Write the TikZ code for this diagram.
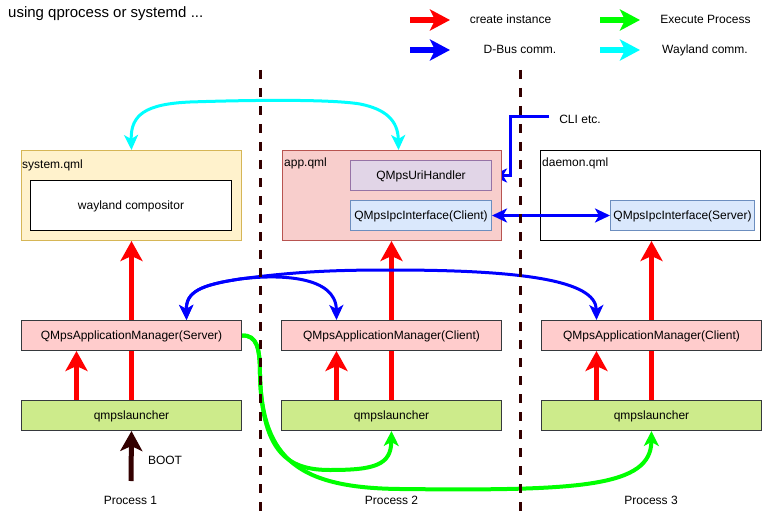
\documentclass[tikz,border=0pt]{standalone}
\usepackage{fontspec}
\setmainfont{Liberation Sans}
\usetikzlibrary{arrows.meta}
\pgfdeclarelayer{bg}
\pgfsetlayers{bg,main}
\definecolor{sysfill}{HTML}{FFF2CC}
\definecolor{sysdraw}{HTML}{D6B656}
\definecolor{appfill}{HTML}{F8CECC}
\definecolor{appdraw}{HTML}{B85450}
\definecolor{urifill}{HTML}{E1D5E7}
\definecolor{uridraw}{HTML}{9673A6}
\definecolor{ipcfill}{HTML}{DAE8FC}
\definecolor{ipcdraw}{HTML}{6C8EBF}
\definecolor{mgrfill}{HTML}{FFCCCC}
\definecolor{lnchfill}{HTML}{CDEB8B}
\definecolor{darkdraw}{HTML}{36393D}
\definecolor{bootc}{HTML}{330000}
\definecolor{cgreen}{HTML}{00FF00}
\definecolor{ccyan}{HTML}{00FFFF}
\definecolor{cblue}{HTML}{0000FF}
\definecolor{cred}{HTML}{FF0000}
\begin{document}
\begin{tikzpicture}[x=1pt,y=-1pt,
  font=\fontsize{12}{14}\selectfont,
  every node/.style={text height=10pt, text depth=2pt},
  box/.style={draw, line width=1pt, inner sep=0pt, anchor=north west, align=center},
  rowbox/.style={box, minimum width=220pt, minimum height=30pt, draw=darkdraw},
  lbl/.style={inner sep=0pt, anchor=west},
  bigtip/.style={-{Stealth[length=20pt, width=22pt, inset=5pt]}},
  redarr/.style={draw=cred, line width=4.5pt, bigtip},
  bootarr/.style={draw=bootc, line width=5pt, bigtip},
  legarr/.style={line width=5.5pt, -{Stealth[length=20pt, width=21pt, inset=5pt]}},
  bluesingle/.style={draw=cblue, line width=3pt, -{Stealth[length=15pt, width=14pt, inset=4pt]}},
  bluedouble/.style={draw=cblue, line width=3pt, {Stealth[length=15pt, width=14pt, inset=4pt]}-{Stealth[length=15pt, width=14pt, inset=4pt]}},
  cyandouble/.style={draw=ccyan, line width=3pt, {Stealth[length=15pt, width=14pt, inset=4pt]}-{Stealth[length=15pt, width=14pt, inset=4pt]}},
  greenarr/.style={draw=cgreen, line width=4pt, -{Stealth[length=15pt, width=15pt, inset=4pt]}},
  dashline/.style={draw=bootc, line width=3pt, dash pattern=on 9pt off 9pt}
]
\useasboundingbox (0,0) rectangle (762,513);

% title
\node[inner sep=0pt, anchor=base west, font=\fontsize{15}{18}\selectfont] (title) at (8,17.5) {using qprocess or systemd ...};

% legend
\draw[legarr, draw=cred] (410,20) -- (450,20);
\draw[legarr, draw=cgreen] (600,20) -- (640,20);
\draw[legarr, draw=cblue] (410,50) -- (450,50);
\draw[legarr, draw=ccyan] (600,50) -- (640,50);
\node (lg1) at (510.5,20) {create instance};
\node (lg2) at (705.5,20) {Execute Process};
\node (lg3) at (520,50) {D-Bus comm.};
\node (lg4) at (705,50) {Wayland comm.};

% qml boxes
\node[box, fill=sysfill, draw=sysdraw, minimum width=220pt, minimum height=90pt] (sys) at (21,150) {};
\node[lbl] (syslbl) at (22,164) {system.qml};
\node[box, fill=white, draw=black, minimum width=201pt, minimum height=50pt] (wc) at (30,180) {wayland compositor};

\node[box, fill=appfill, draw=appdraw, minimum width=219pt, minimum height=90pt] (app) at (282,150) {};
\node[lbl] (applbl) at (284,163) {app.qml};
\node[box, fill=urifill, draw=uridraw, minimum width=141pt, minimum height=30pt] (uri) at (350,160) {QMpsUriHandler};
\node[box, fill=ipcfill, draw=ipcdraw, minimum width=141pt, minimum height=30pt] (ipcc) at (350,200) {QMpsIpcInterface(Client)};

\node[box, fill=white, draw=black, minimum width=220pt, minimum height=90pt] (dae) at (540,150) {};
\node[lbl] (daelbl) at (542,163) {daemon.qml};
\node[box, fill=ipcfill, draw=ipcdraw, minimum width=144pt, minimum height=30pt] (ipcs) at (610,200) {QMpsIpcInterface(Server)};

% manager and launcher rows
\node[rowbox, fill=mgrfill] (m1) at (21,320) {QMpsApplicationManager(Server)};
\node[rowbox, fill=mgrfill] (m2) at (281,320) {QMpsApplicationManager(Client)};
\node[rowbox, fill=mgrfill] (m3) at (541,320) {QMpsApplicationManager(Client)};
\node[rowbox, fill=lnchfill] (l1) at (21,400) {qmpslauncher};
\node[rowbox, fill=lnchfill] (l2) at (281,400) {qmpslauncher};
\node[rowbox, fill=lnchfill] (l3) at (541,400) {qmpslauncher};

% labels
\node (p1) at (130.5,500) {Process 1};
\node (p2) at (391.5,500) {Process 2};
\node (p3) at (651,500) {Process 3};
\node (bootlbl) at (165,460) {BOOT};
\node (clilbl) at (580,120) {CLI etc.};
\coordinate (bootstart) at (131,481);
\coordinate (cli) at (549,117);

\begin{pgfonlayer}{bg}
% create instance
\draw[redarr] ([xshift=-55pt]l1.north) -- ([xshift=-55pt]m1.south);
\draw[redarr] (l1.north) -- (l1.north |- sys.south);
\draw[redarr] ([xshift=-55pt]l2.north) -- ([xshift=-55pt]m2.south);
\draw[redarr] (l2.north) -- (l2.north |- app.south);
\draw[redarr] ([xshift=-55pt]l3.north) -- ([xshift=-55pt]m3.south);
\draw[redarr] (l3.north) -- (l3.north |- dae.south);
% boot
\draw[bootarr] (bootstart) -- (l1.south);
% wayland
\draw[cyandouble] (sys.north) .. controls (130.5,115) and (145,104) .. (190,102)
  .. controls (250,100) and (330,99) .. (360,104)
  .. controls (385,109) and (398,120) .. ([xshift=6.5pt]app.north);
% d-bus
\draw[bluesingle] (cli) -- ++(-39,0) |- (uri.east);
\draw[bluedouble] ([xshift=55pt]m1.north) .. controls (186,292) and (200,285) .. (240,279)
  .. controls (300,271) and (340,270) .. (391,270)
  .. controls (520,270) and (596,280) .. ([xshift=-55pt]m3.north);
\draw[bluedouble] ([xshift=55pt]m1.north) .. controls (186,292) and (200,285) .. (240,279)
  .. controls (280,274) and (336,276) .. ([xshift=-55pt]m2.north);
% execute process
\draw[greenarr] (m1.east) .. controls (257,335) and (260,348) .. (260,375)
  .. controls (262,455) and (290,470) .. (330,470)
  .. controls (375,470) and (391,465) .. (l2.south);
\draw[greenarr] (m1.east) .. controls (257,335) and (260,348) .. (260,375)
  .. controls (262,460) and (300,488) .. (400,489)
  .. controls (580,491) and (651,487) .. (l3.south);
\end{pgfonlayer}

% ipc link drawn over the daemon box
\draw[bluedouble] (ipcc.east) -- (ipcs.west);

% process separators
\draw[dashline] (260.5,70) -- (260.5,513);
\draw[dashline] (520,70) -- (520,513);
\end{tikzpicture}
\end{document}
